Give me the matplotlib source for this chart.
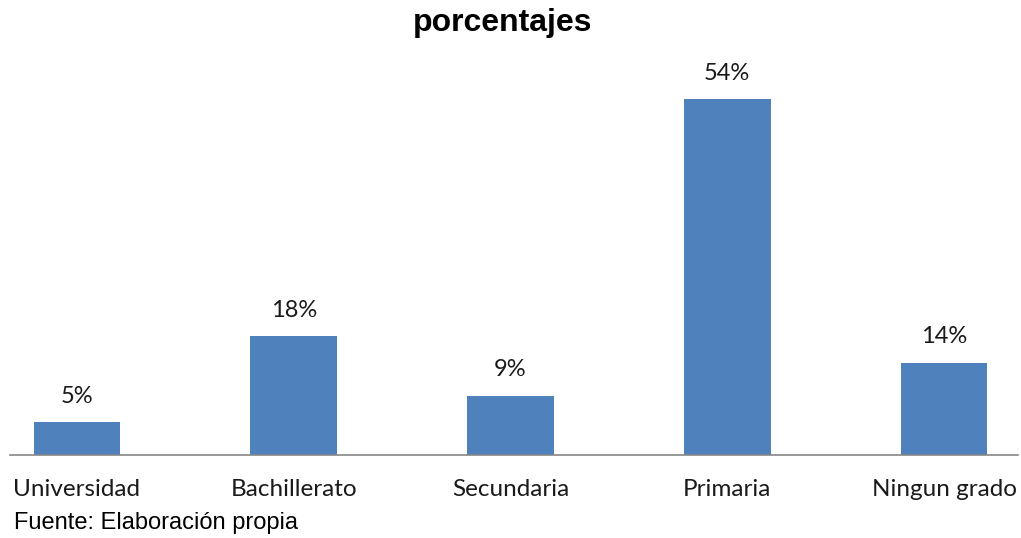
import matplotlib
matplotlib.use("Agg")
import matplotlib.pyplot as plt

categorias = ["Universidad", "Bachillerato", "Secundaria", "Primaria", "Ningun grado"]
porcentajes = [5, 18, 9, 54, 14]
etiquetas = ["5%", "18%", "9%", "54%", "14%"]

W, H = 1021, 538
fig = plt.figure(figsize=(W / 100, H / 100), dpi=100)
ax_left, ax_right, ax_bottom, ax_top = 10, 1018, 455, 59.6
ax = fig.add_axes([ax_left / W, (H - ax_bottom) / H,
                   (ax_right - ax_left) / W, (ax_bottom - ax_top) / H])

x = range(len(categorias))
ax.bar(x, porcentajes, width=0.40, color="#4F81BD", zorder=2)

for xi, v, t in zip(x, porcentajes, etiquetas):
    ax.annotate(t, (xi, v), xytext=(0, 11), textcoords="offset points",
                ha="center", va="bottom", fontsize=17, family="Lato",
                color="#1a1a1a")

ax.set_xlim(-0.309, 4.341)
ax.set_ylim(0, 60)
ax.set_xticks(list(x))
ax.set_xticklabels(categorias, fontsize=17.5, family="Lato", color="#1a1a1a")
ax.tick_params(axis="x", length=0, pad=17)
ax.set_yticks([])
for s in ["top", "left", "right"]:
    ax.spines[s].set_visible(False)
ax.spines["bottom"].set_color("#868686")
ax.spines["bottom"].set_linewidth(1.2)

fig.text(503 / W, 1 - 23 / H, "porcentajes", ha="center", va="center",
         fontsize=23, fontweight="bold", family="Liberation Sans")
fig.text(14 / W, 1 - 523 / H, "Fuente: Elaboración propia", ha="left",
         va="center", fontsize=17, family="Liberation Sans")

fig.savefig("out.png", dpi=100)
